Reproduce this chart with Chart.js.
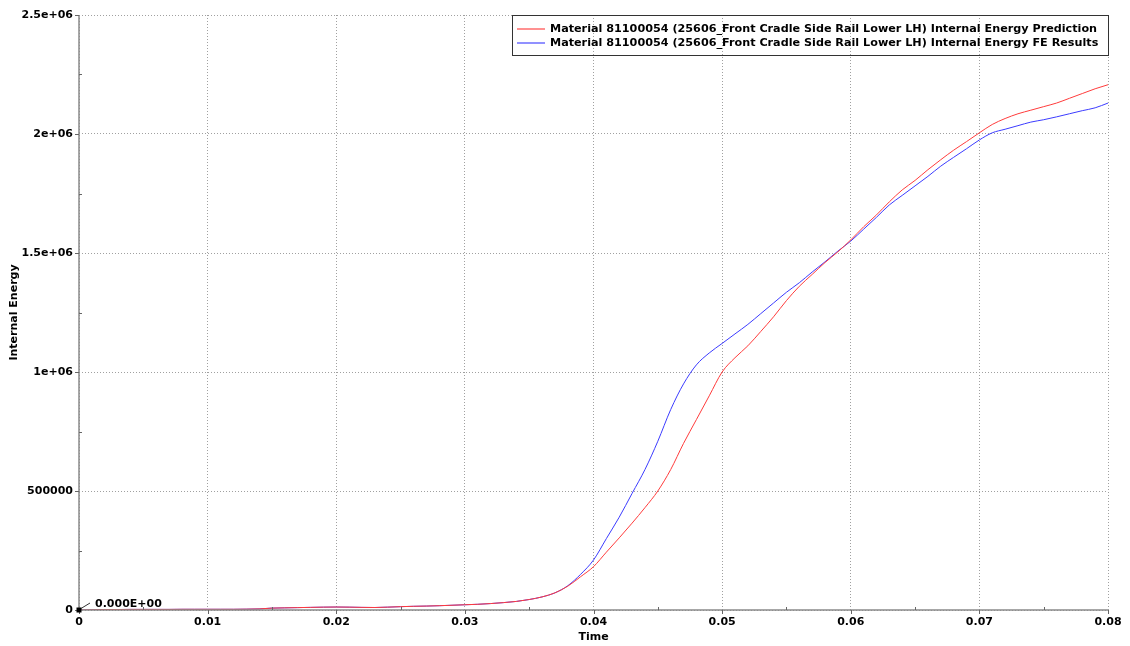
<!DOCTYPE html>
<html>
<head>
<meta charset="utf-8">
<script src="https://cdn.jsdelivr.net/npm/chart.js@4.4.1/dist/chart.umd.min.js"></script>
<style>
  html, body { margin: 0; padding: 0; background: #fff; }
  #wrap { width: 1130px; height: 646px; position: relative; }
</style>
</head>
<body>
<div id="wrap"><canvas id="c" width="1130" height="646"></canvas></div>
<script>
// Time samples (s)
const times = [
  0.000, 0.001, 0.002, 0.003, 0.004, 0.005, 0.006, 0.007, 0.008, 0.009,
  0.010, 0.011, 0.012, 0.013, 0.014, 0.015, 0.016, 0.017, 0.018, 0.019,
  0.020, 0.021, 0.022, 0.023, 0.024, 0.025, 0.026, 0.027, 0.028, 0.029,
  0.030, 0.031, 0.032, 0.033, 0.034, 0.035, 0.036, 0.037, 0.038, 0.039,
  0.040, 0.041, 0.042, 0.043, 0.044, 0.045, 0.046, 0.047, 0.048, 0.049,
  0.050, 0.051, 0.052, 0.053, 0.054, 0.055, 0.056, 0.057, 0.058, 0.059,
  0.060, 0.061, 0.062, 0.063, 0.064, 0.065, 0.066, 0.067, 0.068, 0.069,
  0.070, 0.071, 0.072, 0.073, 0.074, 0.075, 0.076, 0.077, 0.078, 0.079,
  0.080
];

// Internal energy, prediction
const predictionEnergy = [
  0, 1000, 2000, 2000, 2500, 2500, 2500, 2500, 3000, 3000,
  3000, 3000, 3000, 3500, 4500, 8000, 9000, 10000, 11000, 12000,
  12500, 12000, 11000, 10500, 12000, 14000, 15500, 16500, 18000, 20000,
  22000, 24000, 27000, 31000, 36000, 44000, 55000, 72000, 100000, 140000,
  182000, 243000, 303000, 365000, 430000, 500000, 590000, 700000, 800000, 900000,
  1000000, 1060000, 1110000, 1170000, 1232000, 1300000, 1360000, 1410000, 1460000, 1505000,
  1555000, 1610000, 1660000, 1715000, 1765000, 1805000, 1850000, 1892000, 1932000, 1968000,
  2005000, 2040000, 2065000, 2085000, 2100000, 2115000, 2130000, 2150000, 2170000, 2190000,
  2207000
];

// Internal energy, FE results
const feEnergy = [
  0, 1000, 2000, 2000, 2500, 2500, 2500, 2500, 3000, 3000,
  3000, 3000, 3000, 3500, 4500, 8000, 9000, 10000, 11000, 12000,
  12500, 12000, 11000, 10500, 12000, 14000, 15500, 16500, 18000, 20000,
  22000, 24000, 27000, 31000, 36000, 44000, 55000, 72000, 102000, 150000,
  210000, 300000, 390000, 490000, 590000, 709000, 842000, 950000, 1030000, 1080000,
  1120000, 1160000, 1200000, 1245000, 1290000, 1335000, 1375000, 1420000, 1463000, 1508000,
  1550000, 1600000, 1650000, 1702000, 1742000, 1782000, 1822000, 1865000, 1902000, 1938000,
  1975000, 2005000, 2020000, 2035000, 2050000, 2060000, 2072000, 2085000, 2098000, 2110000,
  2130000
];

const seriesLabels = [
  'Material 81100054 (25606_Front Cradle Side Rail Lower LH) Internal Energy Prediction',
  'Material 81100054 (25606_Front Cradle Side Rail Lower LH) Internal Energy FE Results'
];
const xTickLabels = ['0', '0.01', '0.02', '0.03', '0.04', '0.05', '0.06', '0.07', '0.08'];
const yTickLabels = ['0', '500000', '1e+06', '1.5e+06', '2e+06', '2.5e+06'];
const xTitle = 'Time';
const yTitle = 'Internal Energy';
const originNote = '0.000E+00';

const seriesColors = ['#ff3b3b', '#3b3bff'];
const FONT = 'bold 11px "DejaVu Sans", sans-serif';
const LEGEND_FONT = 'bold 11.2px "DejaVu Sans", sans-serif';

function toPoints(xs, ys) { return xs.map((x, i) => ({ x: x, y: ys[i] })); }

// Axes frame, tick marks, legend box and origin note
const decorations = {
  id: 'decorations',
  afterDraw(chart) {
    const { ctx, chartArea: a, scales: { x, y } } = chart;
    ctx.save();
    // axis lines
    ctx.strokeStyle = '#8a8a8a';
    ctx.lineWidth = 1.5;
    ctx.beginPath();
    ctx.moveTo(a.left, a.top);
    ctx.lineTo(a.left, a.bottom);
    ctx.lineTo(a.right, a.bottom);
    ctx.stroke();
    // major and minor ticks
    ctx.lineWidth = 1;
    ctx.strokeStyle = '#666';
    ctx.beginPath();
    for (let i = 0; i < xTickLabels.length; i++) {
      const px = Math.round(x.getPixelForValue(i * 0.01)) + 0.5;
      ctx.moveTo(px, a.bottom); ctx.lineTo(px, a.bottom + 4);
      if (i < xTickLabels.length - 1) {
        const mx = Math.round(x.getPixelForValue(i * 0.01 + 0.005)) + 0.5;
        ctx.moveTo(mx, a.bottom); ctx.lineTo(mx, a.bottom - 3);
      }
    }
    for (let i = 0; i < yTickLabels.length; i++) {
      const py = Math.round(y.getPixelForValue(i * 500000)) + 0.5;
      ctx.moveTo(a.left - 4, py); ctx.lineTo(a.left, py);
      if (i < yTickLabels.length - 1) {
        const my = Math.round(y.getPixelForValue(i * 500000 + 250000)) + 0.5;
        ctx.moveTo(a.left, my); ctx.lineTo(a.left + 3, my);
      }
    }
    ctx.stroke();

    // titles
    ctx.fillStyle = '#000';
    ctx.font = FONT;
    ctx.textAlign = 'center';
    ctx.textBaseline = 'middle';
    ctx.fillText(xTitle, (a.left + a.right) / 2, 637);
    ctx.save();
    ctx.translate(14, (a.top + a.bottom) / 2);
    ctx.rotate(-Math.PI / 2);
    ctx.fillText(yTitle, 0, 0);
    ctx.restore();

    // origin marker and note
    const ox = x.getPixelForValue(0), oy = y.getPixelForValue(0);
    ctx.fillStyle = '#000';
    ctx.fillRect(ox - 2.5, oy - 2.5, 5, 5);
    ctx.strokeStyle = '#333';
    ctx.lineWidth = 1;
    ctx.beginPath();
    ctx.moveTo(ox + 2, oy - 1.5);
    ctx.lineTo(ox + 11, oy - 7);
    ctx.stroke();
    ctx.textAlign = 'left';
    ctx.fillText(originNote, ox + 16, oy - 6);

    // legend box (transparent, grid shows through)
    const bx = 512.5, by = 15.5, bw = 596, bh = 40;
    ctx.strokeStyle = '#333';
    ctx.lineWidth = 1;
    ctx.strokeRect(bx, by, bw, bh);
    ctx.font = LEGEND_FONT;
    chart.data.datasets.forEach((ds, i) => {
      const ly = 29 + i * 14;
      ctx.strokeStyle = seriesColors[i];
      ctx.globalAlpha = 0.75;
      ctx.lineWidth = 1.5;
      ctx.beginPath();
      ctx.moveTo(517, ly); ctx.lineTo(545, ly);
      ctx.stroke();
      ctx.globalAlpha = 1;
      ctx.fillStyle = '#000';
      ctx.textAlign = 'left';
      ctx.fillText(ds.label, 550, ly);
    });
    ctx.restore();
  }
};

const gridStyle = { color: '#a0a0a0', lineWidth: 1, drawTicks: false };
const borderStyle = { display: false, dash: [1, 2] };

new Chart(document.getElementById('c'), {
  type: 'line',
  data: {
    datasets: [
      { label: seriesLabels[0], data: toPoints(times, predictionEnergy), borderColor: seriesColors[0] },
      { label: seriesLabels[1], data: toPoints(times, feEnergy), borderColor: seriesColors[1] }
    ].map(d => Object.assign(d, {
      borderWidth: 1, pointRadius: 0, fill: false, cubicInterpolationMode: 'monotone'
    }))
  },
  options: {
    responsive: false,
    animation: false,
    devicePixelRatio: 1,
    layout: { padding: { left: 0, right: 22, top: 15, bottom: 0 } },
    plugins: { legend: { display: false }, tooltip: { enabled: false } },
    scales: {
      x: {
        type: 'linear', min: 0, max: 0.08,
        afterFit(s) { s.height = 36; },
        border: borderStyle,
        grid: gridStyle,
        ticks: {
          stepSize: 0.01, padding: 6, color: '#000', maxRotation: 0,
          font: { family: '"DejaVu Sans", sans-serif', size: 11, weight: 'bold' },
          callback: (v) => xTickLabels[Math.round(v / 0.01)]
        }
      },
      y: {
        type: 'linear', min: 0, max: 2500000,
        afterFit(s) { s.width = 79; },
        border: borderStyle,
        grid: gridStyle,
        ticks: {
          stepSize: 500000, padding: 6, color: '#000',
          font: { family: '"DejaVu Sans", sans-serif', size: 11, weight: 'bold' },
          callback: (v) => yTickLabels[Math.round(v / 500000)]
        }
      }
    }
  },
  plugins: [decorations]
});
</script>
</body>
</html>
